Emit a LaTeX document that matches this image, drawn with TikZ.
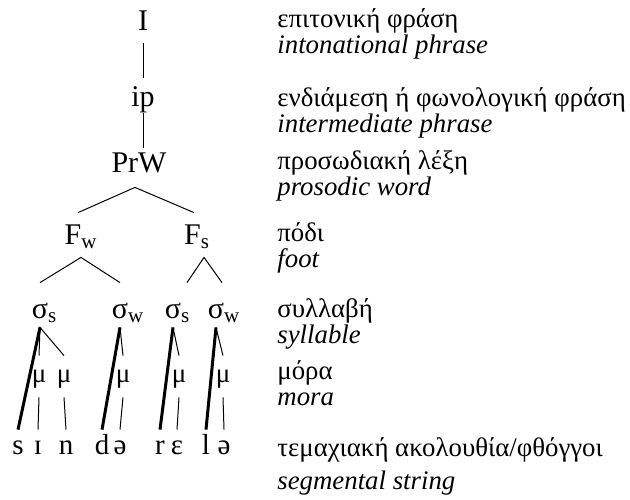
\documentclass[tikz,border=0pt]{standalone}
\usepackage{fontspec}
\setmainfont{Liberation Serif}

\begin{document}
\begin{tikzpicture}[x=0.5pt,y=-0.5pt,
	tier/.style={anchor=base,inner sep=0pt,font=\fontsize{15}{15}\selectfont},
	sig/.style={tier,text height=17.5pt,text depth=4.5pt},
	mora/.style={tier,font=\fontsize{13.5}{13.5}\selectfont,text height=13pt,text depth=7.5pt},
	seg/.style={tier,font=\fontsize{14.5}{14.5}\selectfont,text height=12pt,text depth=0pt},
	gloss/.style={anchor=base west,inner sep=0pt,font=\fontsize{13.4}{13.4}\selectfont},
	eng/.style={gloss,font=\fontsize{13.4}{13.4}\selectfont\itshape},
	thickline/.style={line width=1.5pt},
	thinline/.style={line width=0.5pt}
	]
	\useasboundingbox (0,0) rectangle (630,499);
	
	% prosodic tree
	\node[tier,text depth=6.5pt] (I) at (143,30) {I};
	\node[tier,text height=14pt,text depth=3.5pt] (ip) at (143,106) {ip};
	\node[tier,text height=12pt,text depth=7.5pt] (PrW) at (139,172) {PrW};
	\node[tier,text height=15.5pt,text depth=6.5pt] (Fw) at (81,244) {F\textsubscript{w}};
	\node[tier,text height=15.5pt,text depth=6.5pt] (Fs) at (197,244) {F\textsubscript{s}};
	
	\node[sig] (ss1) at (40,318) {σ\rlap{\textsubscript{s}}};
	\node[sig] (sw1) at (120,318) {σ\rlap{\textsubscript{w}}};
	\node[sig] (ss2) at (173,318) {σ\rlap{\textsubscript{s}}};
	\node[sig] (sw2) at (216,318) {σ\rlap{\textsubscript{w}}};
	
	\node[mora] (mu1) at (39,382) {μ};
	\node[mora] (mu2) at (64,382) {μ};
	\node[mora] (mu3) at (123,382) {μ};
	\node[mora] (mu4) at (179,382) {μ};
	\node[mora] (mu5) at (223,382) {μ};
	
	\node[seg] (s) at (18,454) {s};
	\node[seg] (I2) at (38,454) {ɪ};
	\node[seg] (n) at (66,454) {n};
	\node[seg] (d) at (102,454) {d};
	\node[seg] (e1) at (120,454) {ə};
	\node[seg] (r) at (160,454) {r};
	\node[seg] (eps) at (177,454) {ε};
	\node[seg] (l) at (206,454) {l};
	\node[seg] (e2) at (224,454) {ə};
	
	\draw[thinline] (I.south) -- (ip.north);
	\draw[thinline] (ip.south) -- (ip.south |- PrW.north);
	\draw[thinline] ([xshift=-1.5pt]Fw.north) -- ([xshift=-2pt]PrW.south) -- ([xshift=-1.5pt]Fs.north);
	\draw[thinline] (ss1.north) -- (Fw.south) -- (sw1.north);
	\draw[thinline] ([xshift=7pt]ss2.north) -- ([xshift=3.5pt]Fs.south) -- ([xshift=3pt]sw2.north);
	
	\draw[thinline] (mu1.north) -- (ss1.south) -- (mu2.north);
	\draw[thinline] (sw1.south) -- (mu3.north);
	\draw[thinline] (ss2.south) -- (mu4.north);
	\draw[thinline] (sw2.south) -- (mu5.north);
	
	\draw[thickline] (ss1.south) -- (s.north);
	\draw[thickline] (sw1.south) -- (d.north);
	\draw[thickline] (ss2.south) -- (r.north);
	\draw[thickline] (sw2.south) -- (l.north);
	
	\draw[thinline] (mu1.south) -- (I2.north);
	\draw[thinline] (mu2.south) -- (n.north);
	\draw[thinline] (mu3.south) -- (e1.north);
	\draw[thinline] (mu4.south) -- (eps.north);
	\draw[thinline] (mu5.south) -- (e2.north);
	
	% glosses
	\node[gloss] (gI) at (277,27) {επιτονική φράση};
	\node[eng] (eI) at (277,53) {intonational phrase};
	\node[gloss] (gip) at (277,106) {ενδιάμεση ή φωνολογική φράση};
	\node[eng] (eip) at (277,132) {intermediate phrase};
	\node[gloss] (gPrW) at (277,169) {προσωδιακή λέξη};
	\node[eng] (ePrW) at (277,195) {prosodic word};
	\node[gloss] (gF) at (277,241) {πόδι};
	\node[eng] (eF) at (277,267) {foot};
	\node[gloss] (gsig) at (277,317) {συλλαβή};
	\node[eng] (esig) at (277,343) {syllable};
	\node[gloss] (gmu) at (277,379) {μόρα};
	\node[eng] (emu) at (277,405) {mora};
	\node[gloss] (gseg) at (277,456) {τεμαχιακή ακολουθία/φθόγγοι};
	\node[eng] (eseg) at (277,489) {segmental string};
	
\end{tikzpicture}
\end{document}
